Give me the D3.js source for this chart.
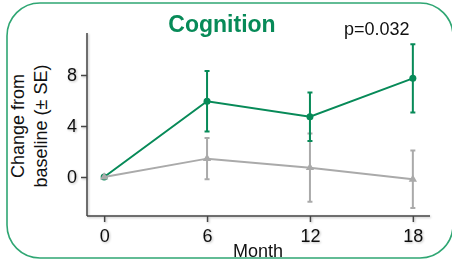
<!DOCTYPE html>
<html><head><meta charset="utf-8">
<script src="https://cdn.jsdelivr.net/npm/d3@7"></script>
<style>body{margin:0;background:#fff}svg{display:block}</style>
</head><body>
<svg id="c" width="452" height="260"></svg>
<script>
const months = [0, 6, 12, 18];
const treatMean = [0, 5.94, 4.73, 7.74];
const treatSE = [0, 2.38, 1.9, 2.68];
const placeboMean = [0, 1.44, 0.73, -0.18];
const placeboSE = [0, 1.62, 2.68, 2.25];
const yTicks = [0, 4, 8];
const xTicks = [0, 6, 12, 18];
const title = "Cognition";
const pText = "p=0.032";

const svg = d3.select("#c");
const font = "'Liberation Sans', Arial, sans-serif";
const green = "#078a58", grey = "#aaaaaa";

const defs = svg.append("defs");
const f = defs.append("filter").attr("id","sh").attr("x","-20%").attr("y","-20%").attr("width","140%").attr("height","140%");
f.append("feDropShadow").attr("dx",1).attr("dy",1).attr("stdDeviation",1).attr("flood-color","#000").attr("flood-opacity",0.25);

svg.append("rect").attr("x",7).attr("y",3).attr("width",446).attr("height",255)
  .attr("rx",33).attr("fill","none").attr("stroke","#2fa673").attr("stroke-width",1.6);

const x = d3.scaleLinear().domain([-1, 19]).range([87, 430]);
const y = d3.scaleLinear().domain([0, 8]).range([177, 75]);
const yBottom = 216, yTop = 33;

const axG = svg.append("g").attr("filter","url(#sh)");
axG.append("g").attr("transform",`translate(87,0)`)
  .call(d3.axisLeft(y).tickValues(yTicks).tickSize(6).tickPadding(4).tickFormat(d3.format("d")))
  .call(g => g.select(".domain").attr("d", `M0,${yTop}V${yBottom}`));
axG.append("g").attr("transform",`translate(0,${yBottom})`)
  .call(d3.axisBottom(x).tickValues(xTicks).tickSize(6).tickPadding(7).tickFormat(d3.format("d")))
  .call(g => g.select(".domain").attr("d", `M87,0H430`));
axG.selectAll(".domain, .tick line").attr("stroke","#444").attr("stroke-width",1.5);
axG.selectAll(".tick text").attr("font-family",font).attr("font-size",18).attr("fill","#111");

svg.append("text").attr("x",258).attr("y",257).attr("text-anchor","middle")
  .attr("font-family",font).attr("font-size",18).attr("fill","#111").text("Month");

const yl = svg.append("text").attr("transform","translate(0,126) rotate(-90)")
  .attr("text-anchor","middle").attr("font-family",font).attr("font-size",18).attr("fill","#111");
yl.append("tspan").attr("x",0).attr("y",24).text("Change from");
yl.append("tspan").attr("x",0).attr("y",47).text("baseline (\u00b1 SE)");

svg.append("text").attr("x",222).attr("y",32).attr("text-anchor","middle")
  .attr("font-family",font).attr("font-size",23).attr("font-weight","bold").attr("fill",green).text(title);
svg.append("text").attr("x",344).attr("y",35)
  .attr("font-family",font).attr("font-size",18).attr("fill","#111").text(pText);

function errBars(mean, se, color){
  const g = svg.append("g").attr("stroke",color).attr("stroke-width",2).attr("fill","none");
  months.forEach((m,i)=>{
    if(se[i]===0) return;
    const cx = x(m), t = y(mean[i]+se[i]), b = y(mean[i]-se[i]);
    g.append("path").attr("d",`M${cx},${t}V${b}M${cx-2.5},${t}H${cx+2.5}M${cx-2.5},${b}H${cx+2.5}`);
  });
}
function line(mean,color){
  svg.append("path").datum(months.map((m,i)=>[m,mean[i]]))
    .attr("d", d3.line().x(d=>x(d[0])).y(d=>y(d[1])))
    .attr("fill","none").attr("stroke",color).attr("stroke-width",2);
}
errBars(placeboMean, placeboSE, grey);
errBars(treatMean, treatSE, green);
line(treatMean, green);
svg.append("g").selectAll("circle").data(months).join("circle")
  .attr("cx",d=>x(d)).attr("cy",(d,i)=>y(treatMean[i])).attr("r",3.5).attr("fill",green);
line(placeboMean, grey);
svg.append("g").selectAll("path").data(months).join("path")
  .attr("transform",(d,i)=>`translate(${x(d)},${y(placeboMean[i])})`)
  .attr("d", d3.symbol(d3.symbolTriangle, 30)).attr("fill",grey);
</script>
</body></html>
